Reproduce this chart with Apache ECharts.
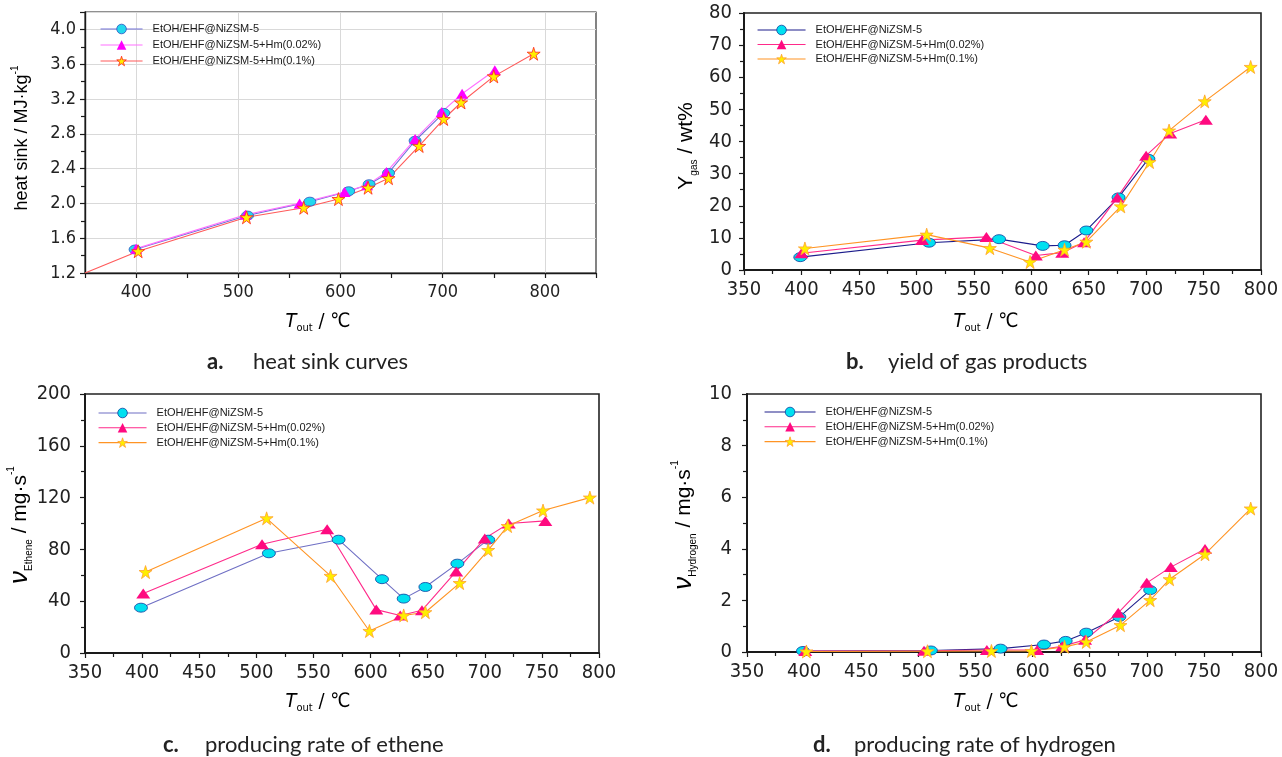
<!DOCTYPE html>
<html>
<head>
<meta charset="utf-8">
<title>EtOH/EHF@NiZSM-5 cracking</title>
<script src="https://cdn.jsdelivr.net/npm/echarts@6/dist/echarts.min.js"></script>
<style>
html, body { margin: 0; padding: 0; background: #fff; }
#wrap { position: relative; width: 1282px; height: 757px; }
.panel { position: absolute; width: 641px; }
#chartA { left: 0; top: 0; height: 378px; }
#chartB { left: 641px; top: 0; height: 378px; }
#chartC { left: 0; top: 378px; height: 379px; }
#chartD { left: 641px; top: 378px; height: 379px; }
</style>
</head>
<body>
<div id="wrap">
  <div class="panel" id="chartA"></div>
  <div class="panel" id="chartB"></div>
  <div class="panel" id="chartC"></div>
  <div class="panel" id="chartD"></div>
</div>
<script>
const seriesNames = ["EtOH/EHF@NiZSM-5", "EtOH/EHF@NiZSM-5+Hm(0.02%)", "EtOH/EHF@NiZSM-5+Hm(0.1%)"];

// a. heat sink (MJ/kg)
const heatX1 = [399, 509, 570, 608, 628, 647, 673, 701];
const heatY1 = [1.47, 1.86, 2.02, 2.14, 2.22, 2.35, 2.72, 3.04];
const heatX2 = [400, 507, 560, 604, 626, 645, 673, 699, 719, 751];
const heatY2 = [1.48, 1.87, 2.0, 2.13, 2.21, 2.36, 2.74, 3.05, 3.26, 3.53];
const heatX3 = [350, 402, 508, 564, 598, 627, 647, 677, 701, 718, 750, 789];
const heatY3 = [1.2, 1.45, 1.84, 1.95, 2.05, 2.18, 2.29, 2.66, 2.97, 3.16, 3.46, 3.72];
const heatXLabels = [400, 500, 600, 700, 800];

// b. gas yield (wt%)
const gasX1 = [399, 511, 572, 610, 629, 648, 676, 702];
const gasY1 = [4.0, 8.5, 9.6, 7.5, 7.7, 12.3, 22.6, 34.6];
const gasX2 = [400, 505, 561, 604, 627, 646, 675, 700, 721, 752];
const gasY2 = [5.2, 9.3, 10.3, 4.5, 5.4, 8.6, 22.6, 35.6, 42.5, 46.8];
const gasX3 = [403, 509, 564, 599, 629, 648, 678, 703, 720, 751, 791];
const gasY3 = [6.7, 11.0, 6.8, 2.5, 6.3, 8.8, 19.8, 33.6, 43.4, 52.5, 63.2];

// c. ethene rate (mg/s)
const etheneX1 = [399, 511, 572, 610, 629, 648, 676, 703];
const etheneY1 = [35, 77, 87.5, 57, 42, 51, 69, 87.5];
const etheneX2 = [401, 505, 562, 605, 626, 645, 675, 700, 721, 753];
const etheneY2 = [46, 84, 95.5, 33.5, 29, 33, 63, 88.5, 100, 102];
const etheneX3 = [403, 509, 565, 599, 629, 648, 678, 703, 720, 751, 792];
const etheneY3 = [62.5, 104, 59.5, 17, 29, 31.5, 54, 79.5, 98, 110, 120];

// d. hydrogen rate (mg/s)
const hydrogenX1 = [399, 511, 572, 610, 629, 647, 676, 703];
const hydrogenY1 = [0.04, 0.06, 0.13, 0.29, 0.43, 0.75, 1.36, 2.4];
const hydrogenX2 = [401, 505, 560, 604, 626, 646, 675, 700, 721, 751];
const hydrogenY2 = [0.04, 0.05, 0.08, 0.08, 0.22, 0.47, 1.52, 2.68, 3.29, 3.99];
const hydrogenX3 = [402, 508, 564, 599, 628, 647, 677, 703, 720, 751, 791];
const hydrogenY3 = [0.02, 0.03, 0.04, 0.04, 0.2, 0.39, 1.04, 2.01, 2.82, 3.79, 5.56];

const starPath = "path://M50,0L61.2,34.5L97.6,34.5L68.2,55.9L79.4,90.5L50,69.1L20.6,90.5L31.8,55.9L2.4,34.5L38.8,34.5Z";
const tickFont = "'Liberation Sans Narrow', 'DejaVu Sans Condensed', sans-serif";
const textFont = "'Liberation Sans', Arial, sans-serif";

function pairs(xs, ys) {
  return xs.map((x, i) => [x, ys[i]]);
}

function lineSeries(name, data, symbol, size, lineColor, fill, border) {
  return {
    type: "line",
    name: name,
    data: data,
    symbol: symbol,
    symbolSize: size,
    lineStyle: { color: lineColor, width: 1.1 },
    itemStyle: { color: fill, borderColor: border || fill, borderWidth: border ? 0.8 : 0 },
    emphasis: { disabled: true }
  };
}

// x name "T_out / ℃", y names with sub/superscripts
const richText = {
  i: { fontFamily: tickFont, fontSize: 20, fontStyle: "italic", lineHeight: 24, color: "#333" },
  n: { fontFamily: tickFont, fontSize: 20, lineHeight: 24, color: "#333" },
  s: { fontFamily: tickFont, fontSize: 11, lineHeight: 11, verticalAlign: "bottom", color: "#333" },
  a: { fontFamily: textFont, fontSize: 18, lineHeight: 24, color: "#333" },
  b: { fontFamily: textFont, fontSize: 21, lineHeight: 26, color: "#333" },
  g: { fontFamily: textFont, fontSize: 26, fontStyle: "italic", lineHeight: 28, color: "#333" },
  sb: { fontFamily: textFont, fontSize: 10, lineHeight: 10, verticalAlign: "bottom", color: "#333" },
  sp: { fontFamily: textFont, fontSize: 10, lineHeight: 10, verticalAlign: "top", color: "#333" }
};

function panelOption(p) {
  const axisLine = { show: true, onZero: false, lineStyle: { color: "#1a1a1a", width: p.axisWidth } };
  // legend items take the marker colours of their own series
  const legendData = p.series.map(s => ({
    name: s.name,
    itemStyle: { color: s.itemStyle.color, borderColor: s.itemStyle.borderColor, borderWidth: s.itemStyle.borderWidth },
    lineStyle: { color: s.lineStyle.color, width: 1.1 }
  }));
  return {
    animation: false,
    grid: {
      left: p.grid[0], top: p.grid[1], width: p.grid[2], height: p.grid[3],
      show: true, borderColor: "#222", borderWidth: p.axisWidth * 0.8, backgroundColor: "transparent"
    },
    legend: {
      orient: "vertical",
      left: p.legend[0], top: p.legend[1],
      padding: 0,
      itemWidth: p.legend[2], itemHeight: 12, itemGap: p.legend[3],
      selectedMode: false,
      textStyle: { fontFamily: textFont, fontSize: 11, color: "#1a1a1a", padding: [0, 0, 0, 5] },
      data: legendData
    },
    xAxis: {
      type: "value",
      min: p.x.min, max: p.x.max, interval: p.x.interval,
      axisLine: axisLine,
      axisTick: { show: true, length: 5, lineStyle: { color: "#1a1a1a", width: 1.2 } },
      minorTick: { show: p.x.minor, splitNumber: 2, length: 4, lineStyle: { color: "#1a1a1a", width: 1.2 } },
      axisLabel: {
        margin: 10, fontFamily: tickFont, fontSize: p.fontSize, color: "#222",
        formatter: p.x.formatter
      },
      splitLine: p.x.split ? { show: true, lineStyle: { color: p.x.split, width: 1 } } : { show: false }
    },
    yAxis: {
      type: "value",
      min: p.y.min, max: p.y.max, interval: p.y.interval,
      axisLine: axisLine,
      axisTick: { show: true, length: 5, lineStyle: { color: "#1a1a1a", width: 1.2 } },
      minorTick: { show: true, splitNumber: 2, length: 4, lineStyle: { color: "#1a1a1a", width: 1.2 } },
      axisLabel: {
        margin: p.y.margin, fontFamily: tickFont, fontSize: p.fontSize, color: "#222",
        showMaxLabel: p.y.showMax, formatter: p.y.formatter
      },
      splitLine: p.y.split ? { show: true, lineStyle: { color: p.y.split, width: 1 } } : { show: false }
    },
    graphic: [
      { type: "text", x: p.xName[0], y: p.xName[1],
        style: { text: "{i|T}{s|out}{n| / ℃}", rich: richText, align: "center", verticalAlign: "middle" } },
      { type: "text", x: p.yName[0], y: p.yName[1], rotation: Math.PI / 2,
        style: { text: p.yName[2], rich: richText, align: "center", verticalAlign: "middle" } },
      { type: "text", x: p.caption[0], y: p.caption[2],
        style: { text: p.caption[3], fontFamily: "Lato, 'Open Sans', sans-serif", fontSize: 22, fontWeight: "bold",
                 fill: "#222", verticalAlign: "middle" } },
      { type: "text", x: p.caption[1], y: p.caption[2],
        style: { text: p.caption[4], fontFamily: "Lato, 'Open Sans', sans-serif", fontSize: 22,
                 fill: "#222", verticalAlign: "middle" } }
    ],
    series: p.series
  };
}

const oneDecimal = v => v.toFixed(1);

// a
const heatStars = pairs(heatX3, heatY3).map((d, i) => i === 0 ? { value: d, symbol: "none" } : d);
const optA = panelOption({
  grid: [85, 12, 511, 261],
  legend: [100, 23.5, 42, 5],
  axisWidth: 1.4,
  fontSize: 18,
  x: { min: 350, max: 850, interval: 50, minor: false, split: ["rgba(0,0,0,0)", "#d9d9d9"],
       formatter: v => heatXLabels.includes(v) ? String(v) : "" },
  y: { min: 1.2, max: 4.2, interval: 0.4, margin: 9, showMax: false, split: "#d9d9d9", formatter: oneDecimal },
  xName: [318, 322],
  yName: [22, 138, "{a|heat sink / MJ·kg}{sp|-1}"],
  caption: [207, 253, 362, "a.", "heat sink curves"],
  series: [
    lineSeries(seriesNames[0], pairs(heatX1, heatY1), "circle", [12, 9], "#7070d8", "#22d8ee", "#3050c0"),
    lineSeries(seriesNames[1], pairs(heatX2, heatY2), "triangle", [12, 10], "#ff70ff", "#ff00ff", null),
    lineSeries(seriesNames[2], heatStars, starPath, 13, "#ff5a5a", "#ffee00", "#ff2020")
  ]
});

// b
const optB = panelOption({
  grid: [103, 13, 517, 257],
  legend: [116, 24.5, 48, 3.5],
  axisWidth: 2,
  fontSize: 20,
  x: { min: 350, max: 800, interval: 50, minor: true, split: null, formatter: v => String(v) },
  y: { min: 0, max: 80, interval: 10, margin: 12, showMax: true, split: null, formatter: v => String(v) },
  xName: [345, 322],
  yName: [45, 146, "{b|Y}{sb|gas}{b| / wt%}"],
  caption: [205, 247, 362, "b.", "yield of gas products"],
  series: [
    lineSeries(seriesNames[0], pairs(gasX1, gasY1), "circle", [13, 9], "#1c1c8c", "#00e0f0", "#1040a0"),
    lineSeries(seriesNames[1], pairs(gasX2, gasY2), "triangle", [14, 10], "#ff2a8a", "#ff0a80", null),
    lineSeries(seriesNames[2], pairs(gasX3, gasY3), starPath, 13, "#ff9424", "#ffee00", "#ffa030")
  ]
});

// c
const optC = panelOption({
  grid: [85, 16, 514, 259],
  legend: [98, 29.5, 48, 3.8],
  axisWidth: 2,
  fontSize: 20,
  x: { min: 350, max: 800, interval: 50, minor: true, split: null, formatter: v => String(v) },
  y: { min: 0, max: 200, interval: 40, margin: 14, showMax: true, split: null, formatter: v => String(v) },
  xName: [318, 324],
  yName: [20, 147, "{g|ν}{sb|Ethene}{b| / mg·s}{sp|-1}"],
  caption: [163, 205, 367, "c.", "producing rate of ethene"],
  series: [
    lineSeries(seriesNames[0], pairs(etheneX1, etheneY1), "circle", [13, 9], "#6f6fc4", "#00e0f0", "#1040a0"),
    lineSeries(seriesNames[1], pairs(etheneX2, etheneY2), "triangle", [14, 10], "#ff2a8a", "#ff0a80", null),
    lineSeries(seriesNames[2], pairs(etheneX3, etheneY3), starPath, 13, "#ff9424", "#ffee00", "#ffa030")
  ]
});

// d
const optD = panelOption({
  grid: [106, 16, 514, 258],
  legend: [123, 28.5, 51, 3.8],
  axisWidth: 2,
  fontSize: 20,
  x: { min: 350, max: 800, interval: 50, minor: true, split: null, formatter: v => String(v) },
  y: { min: 0, max: 10, interval: 2, margin: 15, showMax: true, split: null, formatter: v => String(v) },
  xName: [345, 324],
  yName: [43, 147, "{g|ν}{sb|Hydrogen}{b| / mg·s}{sp|-1}"],
  caption: [172, 213, 367, "d.", "producing rate of hydrogen"],
  series: [
    lineSeries(seriesNames[0], pairs(hydrogenX1, hydrogenY1), "circle", [13, 9], "#20208c", "#00e0f0", "#1040a0"),
    lineSeries(seriesNames[1], pairs(hydrogenX2, hydrogenY2), "triangle", [14, 10], "#ff2a8a", "#ff0a80", null),
    lineSeries(seriesNames[2], pairs(hydrogenX3, hydrogenY3), starPath, 13, "#ff9424", "#ffee00", "#ffa030")
  ]
});

const charts = [
  [document.getElementById("chartA"), optA],
  [document.getElementById("chartB"), optB],
  [document.getElementById("chartC"), optC],
  [document.getElementById("chartD"), optD]
].map(([el, opt]) => {
  const chart = echarts.init(el);
  chart.setOption(opt);
  return chart;
});

window.onresize = () => {
  charts.forEach(c => c.resize());
};
</script>
</body>
</html>
